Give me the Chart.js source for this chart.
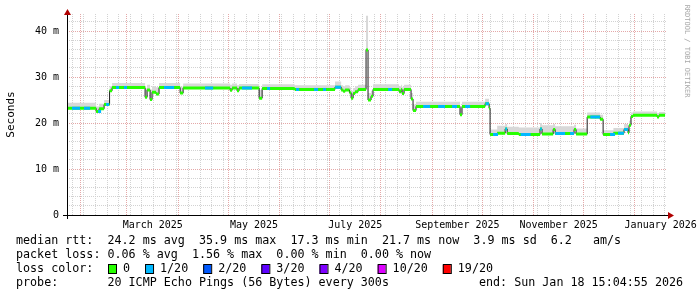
<!DOCTYPE html>
<html>
<head>
<meta charset="utf-8">
<script src="https://cdn.jsdelivr.net/npm/chart.js@4/dist/chart.umd.min.js"></script>
<style>
  html, body { margin: 0; padding: 0; background: #fff; }
  #wrap { width: 697px; height: 297px; }
</style>
</head>
<body>
<div id="wrap"><canvas id="smoke" width="697" height="297"></canvas></div>
<script>
// Median rtt as steps: day counted from Jan 1 2025 (= 0) where a value starts, value in ms
const medianDays = [22.9, 40.4, 42.2, 45.2, 48.5, 50.0, 69.9, 71.1, 72.9, 74.1, 76.5, 78.3, 91.0, 92.8,
  121.1, 122.3, 125.3, 126.5, 138.6, 140.4, 160.0, 184.3, 188.0, 189.2, 190.4, 193.0, 194.0, 195.2,
  196.4, 198.2, 203.0, 204.2, 206.0, 207.2, 222.9, 224.1, 224.7, 225.9, 230.1, 231.3, 233.1, 259.6,
  260.8, 274.7, 277.1, 277.7, 282.0, 286.8, 288.0, 295.0, 307.8, 309.0, 315.7, 316.9, 328.3, 329.5,
  336.2, 344.0, 345.8, 352.0, 358.4, 360.8, 361.4, 362.6, 363.8, 378.3, 379.5, 383.1];
const medianMs = [23.2, 22.5, 23.1, 24.0, 27.0, 27.7, 25.6, 27.2, 25.1, 26.7, 26.3, 27.7, 26.5, 27.6,
  27.1, 27.6, 27.0, 27.6, 25.4, 27.5, 27.3, 27.8, 27.2, 26.9, 27.2, 26.6, 25.4, 26.4,
  26.8, 27.3, 35.9, 25.0, 25.8, 27.3, 26.8, 27.3, 26.4, 27.3, 25.2, 22.7, 23.6, 21.8,
  23.6, 24.2, 23.2, 17.5, 17.8, 18.7, 17.7, 17.5, 18.7, 17.6, 18.6, 17.7, 18.6, 17.6,
  21.3, 20.8, 17.5, 17.8, 18.6, 17.9, 19.5, 21.4, 21.7, 21.3, 21.7, 21.7];
// top edge of the grey smoke for the same steps
const smokeTopMs = [24.4, 23.6, 24.2, 25.0, 28.0, 28.7, 27.5, 28.3, 27.3, 28.0, 27.8, 28.7, 27.9, 28.6,
  28.3, 28.6, 28.2, 28.5, 27.2, 28.4, 28.2, 29.0, 28.2, 28.0, 28.2, 27.8, 27.0, 27.6,
  28.0, 28.3, 43.3, 26.5, 27.0, 28.4, 28.0, 28.3, 27.8, 28.3, 26.5, 24.0, 24.6, 23.2,
  24.6, 25.3, 24.3, 18.6, 19.4, 19.8, 19.2, 19.0, 20.0, 19.5, 19.8, 19.3, 19.6, 18.8,
  22.3, 21.8, 18.4, 18.9, 19.8, 19.0, 20.5, 22.3, 22.5, 22.2, 22.4, 22.4];
// stretches where 1/20 pings were lost
const lossOneDays = [[25.9, 30.7], [33.1, 36.8], [41.6, 43.4], [46.4, 48.2], [52.4, 54.2], [57.2, 59.0],
  [81.3, 87.4], [106.0, 110.9], [128.3, 134.3], [143.4, 145.2], [160.8, 162.7], [171.7, 174.1],
  [177.1, 178.9], [184.4, 187.9], [216.3, 218.7], [237.4, 241.6], [246.4, 250.6], [254.8, 257.8],
  [262.7, 265.7], [275.0, 277.0], [279.5, 282.5], [286.9, 287.9], [296.1, 302.1], [307.9, 308.9],
  [317.0, 322.9], [325.9, 328.2], [338.1, 343.9], [350.0, 353.0], [354.8, 358.3], [358.5, 360.7]];

const monthStarts = [31, 59, 90, 120, 151, 181, 212, 243, 273, 304, 334, 365];
const monthLabels = ['March 2025', 'May 2025', 'July 2025', 'September 2025', 'November 2025', 'January 2026'];
const monthLabelDays = [74.5, 135.5, 196.5, 258, 319, 380.5];

const lossColors = ['#26ff00', '#00b8ff', '#0059ff', '#5e00ff', '#7e00ff', '#dd00ff', '#ff0000'];
const lossNames = ['0', '1/20', '2/20', '3/20', '4/20', '10/20', '19/20'];

const statLines = [
  'median rtt:  24.2 ms avg  35.9 ms max  17.3 ms min  21.7 ms now  3.9 ms sd  6.2   am/s',
  'packet loss: 0.06 % avg  1.56 % max  0.00 % min  0.00 % now'
];
const probeLine = 'probe:       20 ICMP Echo Pings (56 Bytes) every 300s';
const endLine = 'end: Sun Jan 18 15:04:55 2026';

const MONO = "'DejaVu Sans Mono', monospace";
const MGRID = '#e4a8a8';
const GRID = '#d2d2d2';

// helpers
const medianAt = (day) => {
  let v = medianMs[0];
  medianDays.forEach((d, i) => { if (day >= d) v = medianMs[i]; });
  return v;
};

const smokePoints = medianDays.map((d, i) => ({ x: d, y: smokeTopMs[i] }));
const medianPoints = medianDays.map((d, i) => ({ x: d, y: medianMs[i] }));

// flat pieces of the median, broken between steps so the jumps stay thin
const greenPieces = [];
for (let i = 0; i < medianDays.length - 1; i++) {
  greenPieces.push({ x: medianDays[i], y: medianMs[i] }, { x: medianDays[i + 1], y: medianMs[i] }, { x: medianDays[i + 1], y: null });
}
const bluePieces = [];
lossOneDays.forEach(([a, b]) => {
  const v = medianAt(a);
  bluePieces.push({ x: a, y: v }, { x: b, y: v }, { x: b, y: null });
});

// week lines on Mondays
const weekTicks = [];
for (let d = 26; d < 385; d += 7) weekTicks.push(d);

const rrdDecor = {
  id: 'rrdDecor',
  afterDraw(chart) {
    const { ctx, chartArea: a, scales } = chart;
    ctx.save();

    // axes
    ctx.strokeStyle = '#000';
    ctx.lineWidth = 1;
    ctx.beginPath();
    ctx.moveTo(a.left - 4, a.bottom + 0.5);
    ctx.lineTo(a.right + 1, a.bottom + 0.5);
    ctx.moveTo(a.left + 0.5, a.bottom + 4);
    ctx.lineTo(a.left + 0.5, a.top);
    ctx.stroke();

    ctx.fillStyle = '#b00000';
    ctx.beginPath();
    ctx.moveTo(a.right + 1, a.bottom - 3);
    ctx.lineTo(a.right + 7, a.bottom + 0.5);
    ctx.lineTo(a.right + 1, a.bottom + 4);
    ctx.closePath();
    ctx.fill();
    ctx.beginPath();
    ctx.moveTo(a.left - 3, a.top + 1);
    ctx.lineTo(a.left + 0.5, a.top - 5);
    ctx.lineTo(a.left + 4, a.top + 1);
    ctx.closePath();
    ctx.fill();

    // month labels, centred in the month
    ctx.fillStyle = '#000';
    ctx.font = '10px ' + MONO;
    ctx.textAlign = 'center';
    ctx.textBaseline = 'middle';
    monthLabels.forEach((t, i) => {
      ctx.fillText(t, scales.x.getPixelForValue(monthLabelDays[i]), 225);
    });

    // y title
    ctx.save();
    ctx.translate(11, (a.top + a.bottom) / 2);
    ctx.rotate(-Math.PI / 2);
    ctx.font = '11px ' + MONO;
    ctx.fillText('Seconds', 0, 0);
    ctx.restore();

    // watermark
    ctx.save();
    ctx.translate(687, 51);
    ctx.rotate(Math.PI / 2);
    ctx.font = '7px ' + MONO;
    ctx.fillStyle = '#a8a8a8';
    ctx.fillText('RRDTOOL / TOBI OETIKER', 0, 0);
    ctx.restore();

    // legend block
    ctx.font = '11.7px ' + MONO;
    ctx.textAlign = 'left';
    ctx.fillText(statLines[0], 16, 241);
    ctx.fillText(statLines[1], 16, 255);
    ctx.fillText('loss color:', 16, 269);
    let x = 108;
    lossColors.forEach((c, i) => {
      ctx.fillStyle = c;
      ctx.fillRect(x, 265, 8, 9);
      ctx.strokeStyle = '#000';
      ctx.strokeRect(x + 0.5, 264.5, 8, 9);
      ctx.fillStyle = '#000';
      ctx.fillText(lossNames[i], x + 15, 269);
      x += 15 + ctx.measureText(lossNames[i]).width + 15;
    });
    ctx.fillText(probeLine, 16, 283);
    ctx.fillText(endLine, 479, 283);

    ctx.restore();
  }
};

new Chart(document.getElementById('smoke'), {
  type: 'line',
  data: {
    datasets: [
      {
        data: smokePoints, stepped: true, fill: 1,
        backgroundColor: '#d8d8d8', borderColor: 'rgba(0,0,0,0)', borderWidth: 1,
        pointRadius: 0, order: 4
      },
      {
        data: medianPoints, stepped: true, fill: false,
        borderColor: '#1e1e1e', borderWidth: 1, pointRadius: 0, order: 3
      },
      {
        data: greenPieces, spanGaps: false, fill: false,
        borderColor: lossColors[0], borderWidth: 3, borderCapStyle: 'butt',
        pointRadius: 0, order: 2
      },
      {
        data: bluePieces, spanGaps: false, fill: false,
        borderColor: lossColors[1], borderWidth: 3, borderCapStyle: 'butt',
        pointRadius: 0, order: 1
      }
    ]
  },
  options: {
    responsive: false,
    animation: false,
    devicePixelRatio: 1,
    layout: { padding: { top: 12, right: 30, left: 0, bottom: 0 } },
    plugins: { legend: { display: false }, tooltip: { enabled: false } },
    scales: {
      x: {
        type: 'linear',
        min: 22.86,
        max: 384.28,
        afterBuildTicks: (scale) => {
          scale.ticks = weekTicks.concat(monthStarts).sort((p, q) => p - q).map(v => ({ value: v }));
        },
        afterFit: (scale) => { scale.height = 82; },
        ticks: { display: false },
        grid: {
          drawTicks: false,
          lineWidth: 1,
          color: (c) => monthStarts.includes(c.tick.value) ? MGRID : GRID
        },
        border: { display: false, dash: [1, 1] }
      },
      y: {
        min: 0,
        max: 43.7,
        afterBuildTicks: (scale) => {
          const t = [];
          for (let v = 0; v <= 42; v += 2) t.push({ value: v });
          scale.ticks = t;
        },
        afterFit: (scale) => { scale.width = 67; },
        ticks: {
          autoSkip: false,
          padding: 8,
          color: '#000',
          font: { family: MONO, size: 10 },
          callback: (v) => v % 10 === 0 ? (v === 0 ? '0' : v + ' m') : ''
        },
        grid: {
          drawTicks: false,
          lineWidth: 1,
          color: (c) => c.tick.value % 10 === 0 ? MGRID : GRID
        },
        border: { display: false, dash: [1, 1] }
      }
    }
  },
  plugins: [rrdDecor]
});
</script>
</body>
</html>
